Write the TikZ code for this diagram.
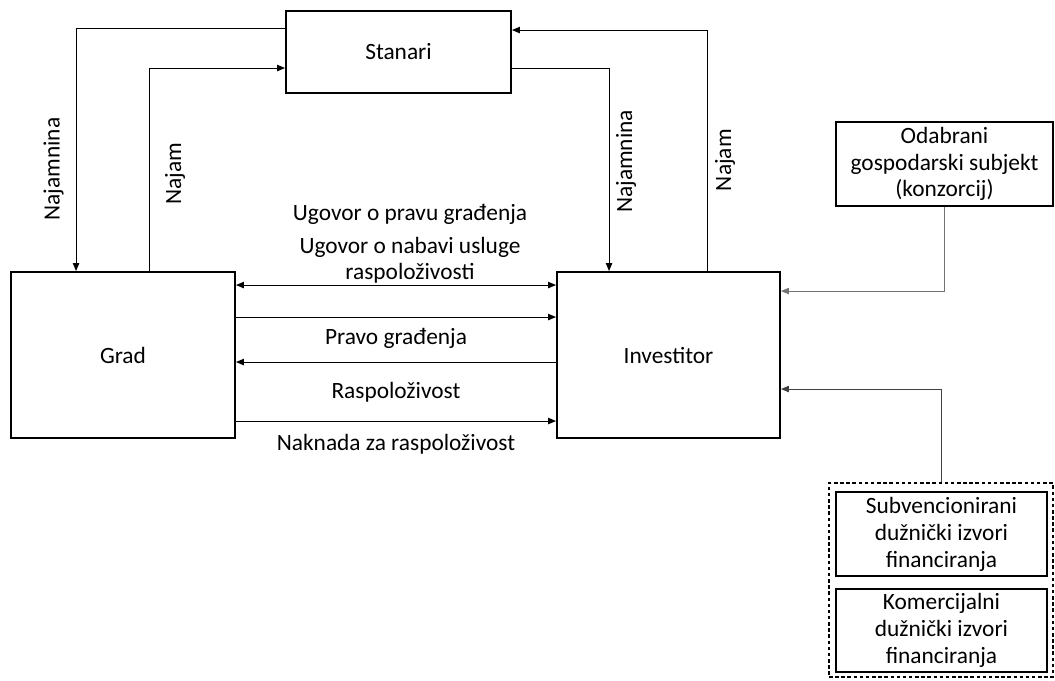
\documentclass[tikz,border=0pt]{standalone}
\usepackage{fontspec}
\setmainfont{Carlito}
\usepackage{tikz}
\usetikzlibrary{arrows.meta}

\tikzset{
    box/.style={draw, line width=1.1pt, align=center, inner sep=0pt},
    vlbl/.style={rotate=90},
    izvorbox/.style={draw, line width=0.8pt, dash pattern=on 2pt off 1.5pt, inner sep=0pt},
}

\begin{document}
\begin{tikzpicture}[x=0.02cm, y=-0.02cm, line width=0.6pt,
        >={Triangle[length=4.5pt,width=3.6pt]}, font=\fontsize{13.3}{15.3}\selectfont]
            \useasboundingbox (0,0) rectangle (1055,680);
            \node [box, minimum width=4.5cm, minimum height=1.64cm] (stanari) at (398.5,52) {Stanari};
            \node [box, minimum width=4.48cm, minimum height=3.32cm] (grad) at (123,355) {Grad};
            \node [box, minimum width=4.46cm, minimum height=3.32cm] (investitor) at (668.5,355) {Investitor};
            \node [box, minimum width=4.34cm, minimum height=1.68cm] (odabrani) at (944.5,164) {Odabrani\\gospodarski subjekt\\(konzorcij)};
            \node [izvorbox, minimum width=4.48cm, minimum height=3.88cm] (izvori) at (941,580) {};
            \node [box, minimum width=4.22cm, minimum height=1.68cm] (subv) at (941.5,534) {Subvencionirani\\dužnički izvori\\financiranja};
            \node [box, minimum width=4.22cm, minimum height=1.66cm] (komerc) at (941.5,630.5) {Komercijalni\\dužnički izvori\\financiranja};
            % stanari
            \draw [->] ([yshift=-0.36cm]stanari.north west) -| node [pos=0.79, xshift=-0.45cm, vlbl] {Najamnina} ([xshift=1.32cm]grad.north west);
            \draw [->] ([xshift=2.78cm]grad.north west) |- node [pos=0.24, xshift=0.52cm, vlbl] {Najam} ([yshift=-1.16cm]stanari.north west);
            \draw [->] ([yshift=-1.16cm]stanari.north east) -| node [pos=0.73, xshift=0.34cm, vlbl] {Najamnina} ([xshift=1.06cm]investitor.north west);
            \draw [->] ([xshift=3.02cm]investitor.north west) |- node [pos=0.23, xshift=0.36cm, vlbl] {Najam} ([yshift=-0.4cm]stanari.north east);
            % grad - investitor
            \draw [<->] ([yshift=-0.28cm]grad.north east) -- node [above, align=center, xshift=0.28cm, yshift=-0.1cm] {Ugovor o pravu građenja\\[0.12cm]Ugovor o nabavi usluge\\raspoloživosti} ([yshift=-0.28cm]investitor.north west);
            \draw [->] ([yshift=-0.92cm]grad.north east) -- node [below, yshift=-0.1cm] {Pravo građenja} ([yshift=-0.92cm]investitor.north west);
            \draw [<-] ([yshift=-1.82cm]grad.north east) -- node [below, yshift=-0.28cm] {Raspoloživost} ([yshift=-1.82cm]investitor.north west);
            \draw [->] ([yshift=-3cm]grad.north east) -- node [below, yshift=-0.14cm] {Naknada za raspoloživost} ([yshift=-3cm]investitor.north west);
            % financiranje
            \draw [->, black!55, line width=0.5pt] (odabrani.south) |- ([yshift=-0.4cm]investitor.north east);
            \draw [->, black!75, line width=0.5pt] (izvori.north) |- ([yshift=-2.36cm]investitor.north east);
        \end{tikzpicture}
\end{document}
